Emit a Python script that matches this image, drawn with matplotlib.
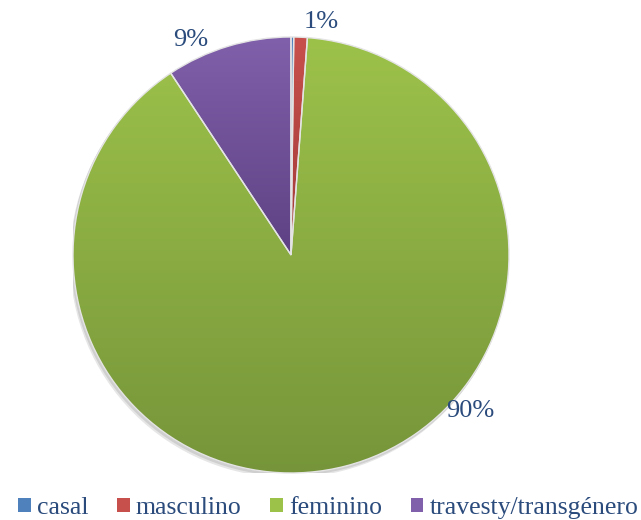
import matplotlib
matplotlib.use("Agg")
import matplotlib.pyplot as plt
import matplotlib.patches as mpatches
from matplotlib.colors import LinearSegmentedColormap
import numpy as np

# share of each category (%)
categories = ["casal", "masculino", "feminino", "travesty/transgénero"]
shares = [0.2, 1.0, 89.5, 9.3]
pct_labels = ["", "1%", "90%", "9%"]

top_colors = ["#4F81BD", "#C8504C", "#9DC24A", "#8060AA"]
bottom_colors = ["#3A6396", "#A03A38", "#76953A", "#5E4184"]
text_color = "#2A4B7C"

plt.rcParams['font.family'] = ['Liberation Serif', 'DejaVu Serif']

fig = plt.figure(figsize=(6.41, 5.2), dpi=100)
cx, cy, r = 291, 265, 218
ax = fig.add_axes([(cx - r) / 641, (cy - r) / 520, 2 * r / 641, 2 * r / 520])

# soft shadow behind the pie
for off, col in [(0.018, "#E6E6E6"), (0.01, "#CFCFCF")]:
    ax.add_patch(mpatches.Circle((-off * 0.6, -off), 1.0, color=col, zorder=0))

wedges, _ = ax.pie(shares, startangle=90, counterclock=False, radius=1.0,
                   colors=top_colors,
                   wedgeprops=dict(edgecolor="#E4E4E4", linewidth=1.0))

# vertical gradient fill for each wedge
for w, c_top, c_bot in zip(wedges, top_colors, bottom_colors):
    cmap = LinearSegmentedColormap.from_list("g", [c_bot, c_top])
    verts = w.get_path().vertices
    ymin, ymax = verts[:, 1].min(), verts[:, 1].max()
    xmin, xmax = verts[:, 0].min(), verts[:, 0].max()
    grad = np.linspace(0, 1, 256).reshape(-1, 1)
    im = ax.imshow(grad, cmap=cmap, origin="lower", aspect="auto",
                   extent=(xmin, xmax, ymin, ymax), zorder=1.5)
    im.set_clip_path(w)
    w.set_zorder(2)
    w.set_facecolor("none")
ax.set_xlim(-1.0, 1.0)
ax.set_ylim(-1.0, 1.0)
ax.set_aspect("equal")
ax.axis("off")

# percentage labels (angles as placed in the original chart)
label_angles = [90, 82.5, -41, 115]
label_radius = [1.08, 1.08, 1.09, 1.09]
for lab, ang, rad in zip(pct_labels, label_angles, label_radius):
    if not lab:
        continue
    a = np.deg2rad(ang)
    ax.text(rad * np.cos(a), rad * np.sin(a), lab, ha="center", va="center",
            fontsize=19, color=text_color, clip_on=False)

handles = [mpatches.Patch(facecolor=c, edgecolor="none") for c in top_colors]
fig.legend(handles, categories, loc="lower center", ncol=4,
           bbox_to_anchor=(0.512, -0.018), frameon=False, fontsize=18.5,
           handlelength=0.5, handleheight=0.5, handletextpad=0.25,
           columnspacing=1.1, labelcolor=text_color, borderaxespad=0.0)

fig.savefig("out.png", dpi=100)
